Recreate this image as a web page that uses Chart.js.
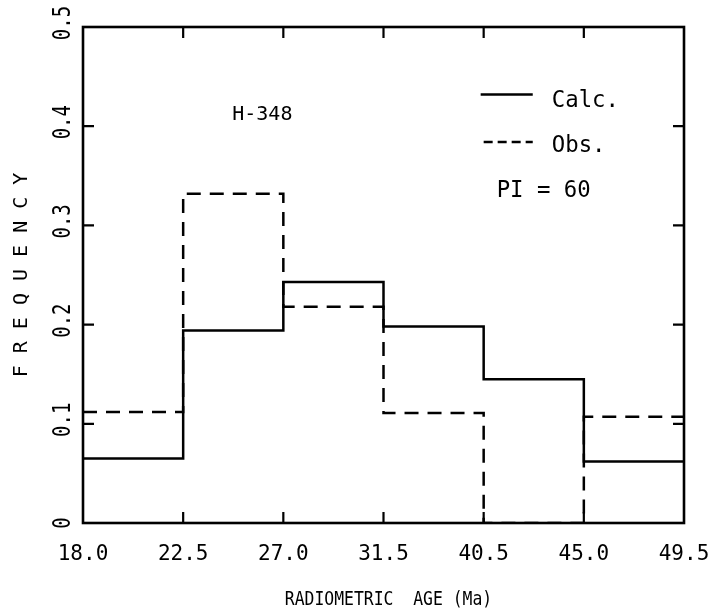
<!DOCTYPE html>
<html>
<head>
<meta charset="utf-8">
<script src="https://cdn.jsdelivr.net/npm/chart.js@4/dist/chart.umd.min.js"></script>
<style>
html,body{margin:0;padding:0;background:#fff;}
#wrap{width:722px;height:615px;}
</style>
</head>
<body>
<div id="wrap"><canvas id="c" width="722" height="615"></canvas></div>
<script>
// ---- data ----
const binEdgeLabels = ['18.0','22.5','27.0','31.5','40.5','45.0','49.5'];
const calcValues = [0.065, 0.194, 0.243, 0.198, 0.145, 0.062];
const obsValues  = [0.112, 0.332, 0.218, 0.111, 0.0, 0.107];
const yTickLabels = ['0','0.1','0.2','0.3','0.4','0.5'];
const yTickValues = [0, 0.1, 0.2, 0.3, 0.4, 0.5];
const xTitle = 'RADIOMETRIC  AGE (Ma)';
const yTitle = 'F R E Q U E N C Y';

function stepPoints(vals){
  const pts = vals.map((v,i)=>({x:i,y:v}));
  pts.push({x:vals.length, y:vals[vals.length-1]});
  return pts;
}

const FONT = "'DejaVu Sans Mono', 'Liberation Mono', monospace";

function condensedText(ctx, text, x, y, sx){
  ctx.save();
  ctx.translate(x, y);
  ctx.scale(sx, 1);
  ctx.fillText(text, 0, 0);
  ctx.restore();
}

const decor = {
  id:'decor',
  afterDraw(chart){
    const ctx = chart.ctx, a = chart.chartArea;
    const xs = chart.scales.x, ys = chart.scales.y;
    ctx.save();
    ctx.strokeStyle = '#000';
    ctx.fillStyle = '#000';
    ctx.lineWidth = 2.6;
    ctx.setLineDash([]);
    ctx.strokeRect(a.left, a.top, a.right - a.left, a.bottom - a.top);
    const tl = 11;
    ctx.lineWidth = 2.2;
    ctx.beginPath();
    for (let i = 1; i < yTickValues.length - 1; i++){
      const y = ys.getPixelForValue(yTickValues[i]);
      ctx.moveTo(a.left, y); ctx.lineTo(a.left + tl, y);
      ctx.moveTo(a.right, y); ctx.lineTo(a.right - tl, y);
    }
    for (let i = 1; i < binEdgeLabels.length - 1; i++){
      const x = xs.getPixelForValue(i);
      ctx.moveTo(x, a.top); ctx.lineTo(x, a.top + tl);
      ctx.moveTo(x, a.bottom); ctx.lineTo(x, a.bottom - tl);
    }
    ctx.stroke();
    // rotated y tick labels
    ctx.font = '25px ' + FONT;
    ctx.textAlign = 'center';
    ctx.textBaseline = 'middle';
    for (let i = 0; i < yTickValues.length; i++){
      const y = ys.getPixelForValue(yTickValues[i]);
      ctx.save();
      ctx.translate(a.left - 20, y - (i === 0 ? 0 : 4));
      ctx.rotate(-Math.PI/2);
      ctx.scale(0.76, 1);
      ctx.fillText(yTickLabels[i], 0, 0);
      ctx.restore();
    }
    // x axis title (condensed)
    ctx.font = '20px ' + FONT;
    condensedText(ctx, xTitle, (a.left + a.right) / 2 + 5, 600, 0.82);
    // annotations
    ctx.textAlign = 'left';
    ctx.font = '20px ' + FONT;
    condensedText(ctx, 'H-348', xs.getPixelForValue(1.49), ys.getPixelForValue(0.411), 1);
    ctx.font = '23px ' + FONT;
    condensedText(ctx, 'Calc.', xs.getPixelForValue(4.68), ys.getPixelForValue(0.425), 0.97);
    condensedText(ctx, 'Obs.',  xs.getPixelForValue(4.68), ys.getPixelForValue(0.380), 0.97);
    condensedText(ctx, 'PI = 60', xs.getPixelForValue(4.13), ys.getPixelForValue(0.335), 0.97);
    // legend lines
    ctx.lineWidth = 2.4;
    ctx.beginPath();
    ctx.moveTo(xs.getPixelForValue(3.97), ys.getPixelForValue(0.432));
    ctx.lineTo(xs.getPixelForValue(4.49), ys.getPixelForValue(0.432));
    ctx.stroke();
    ctx.setLineDash([9,5]);
    ctx.beginPath();
    ctx.moveTo(xs.getPixelForValue(4.00), ys.getPixelForValue(0.384));
    ctx.lineTo(xs.getPixelForValue(4.49), ys.getPixelForValue(0.384));
    ctx.stroke();
    ctx.restore();
  }
};

new Chart(document.getElementById('c'), {
  type:'line',
  data:{
    datasets:[
      {label:'Calc.', data:stepPoints(calcValues), stepped:true, borderColor:'#000', borderWidth:2.5, pointRadius:0, fill:false},
      {label:'Obs.', data:stepPoints(obsValues), stepped:true, borderColor:'#000', borderWidth:2.5, borderDash:[14,9], pointRadius:0, fill:false}
    ]
  },
  options:{
    responsive:false,
    animation:false,
    layout:{padding:{left:0, right:38, top:27, bottom:0}},
    plugins:{legend:{display:false}, tooltip:{enabled:false}},
    scales:{
      x:{
        type:'linear', min:0, max:binEdgeLabels.length-1,
        grid:{display:false, drawTicks:false},
        border:{display:false},
        ticks:{stepSize:1, autoSkip:false, maxRotation:0, padding:19, color:'#000',
          font:{family:FONT, size:21},
          callback:(v)=>binEdgeLabels[v] ?? ''},
        title:{display:false},
        afterFit:(s)=>{s.height = 92; s.paddingLeft = 0; s.paddingRight = 0;}
      },
      y:{
        type:'linear', min:0, max:0.5,
        grid:{display:false, drawTicks:false},
        border:{display:false},
        ticks:{display:false, stepSize:0.1},
        title:{display:true, text:yTitle, color:'#000',
          font:{family:FONT, size:20}, padding:{top:10,bottom:0}},
        afterFit:(s)=>{s.width = 83; s.paddingTop = 0; s.paddingBottom = 0;}
      }
    }
  },
  plugins:[decor]
});
</script>
</body>
</html>
